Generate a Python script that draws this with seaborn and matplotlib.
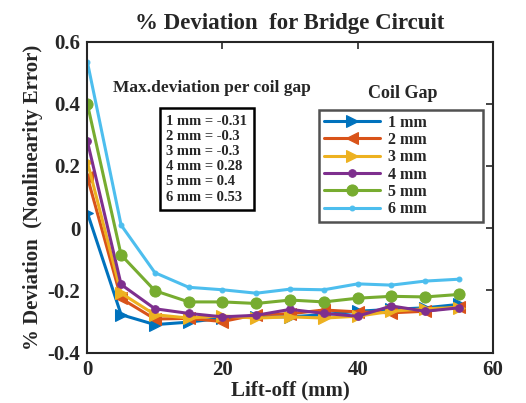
import numpy as np
import pandas as pd
import matplotlib
matplotlib.use("Agg")
import matplotlib.pyplot as plt
import seaborn as sns

lift_off = [0, 5, 10, 15, 20, 25, 30, 35, 40, 45, 50, 55]
gaps = ["1 mm", "2 mm", "3 mm", "4 mm", "5 mm", "6 mm"]
dev_1mm = [0.05, -0.278, -0.31, -0.302, -0.289, -0.285, -0.285, -0.278, -0.267, -0.261, -0.256, -0.245]
dev_2mm = [0.165, -0.226, -0.292, -0.29, -0.30, -0.278, -0.275, -0.263, -0.269, -0.272, -0.267, -0.252]
dev_3mm = [0.214, -0.209, -0.278, -0.289, -0.282, -0.289, -0.285, -0.289, -0.283, -0.267, -0.259, -0.255]
dev_4mm = [0.28, -0.181, -0.259, -0.274, -0.285, -0.28, -0.261, -0.274, -0.283, -0.25, -0.267, -0.256]
dev_5mm = [0.40, -0.086, -0.201, -0.237, -0.237, -0.242, -0.231, -0.237, -0.225, -0.219, -0.221, -0.213]
dev_6mm = [0.535, 0.01, -0.143, -0.19, -0.198, -0.209, -0.196, -0.198, -0.179, -0.183, -0.170, -0.164]
max_dev = ["-0.31", "-0.3", "-0.3", "0.28", "0.4", "0.53"]

colors = ["#0072BD", "#D95319", "#EDB120", "#7E2F8E", "#77AC30", "#4DBEEE"]
markers = [">", "<", ">", ".", "o", "."]
msizes = [8, 8, 8, 11, 8, 7]

series = [dev_1mm, dev_2mm, dev_3mm, dev_4mm, dev_5mm, dev_6mm]
df = pd.concat([pd.DataFrame({"lift": lift_off, "dev": s, "gap": g}) for g, s in zip(gaps, series)])

sns.set_style("white")
plt.rcParams["font.family"] = ["Liberation Serif", "DejaVu Serif"]
plt.rcParams["font.weight"] = "bold"

fig = plt.figure(figsize=(5.26, 4.03), dpi=100)
ax = fig.add_axes([0.166, 0.125, 0.771, 0.772])

for i, g in enumerate(gaps):
    sns.lineplot(data=df[df.gap == g], x="lift", y="dev", color=colors[i], marker=markers[i],
                 markersize=msizes[i], markeredgecolor=colors[i], linewidth=2.2, label=g, ax=ax)

ax.set_xlim(0, 60)
ax.set_ylim(-0.4, 0.6)
ax.set_xticks([0, 20, 40, 60])
ax.set_yticks([-0.4, -0.2, 0, 0.2, 0.4, 0.6])
ax.set_yticklabels(["-0.4", "-0.2", "0", "0.2", "0.4", "0.6"])
ax.tick_params(direction="in", length=5, width=1.2, labelsize=15, top=True, right=True, pad=5)
for sp in ax.spines.values():
    sp.set_linewidth(1.5)
    sp.set_color("#262626")

ax.set_xlabel("Lift-off (mm)", fontsize=15, fontweight="bold", labelpad=1)
ax.set_ylabel("% Deviation  (Nonlinearity Error)", fontsize=15, fontweight="bold", labelpad=3)
ax.set_title("% Deviation  for Bridge Circuit", fontsize=16.5, fontweight="bold", pad=9)

leg = ax.legend(loc="upper left", bbox_to_anchor=(0.572, 0.44, 0.404, 0.34), mode="expand",
                borderaxespad=0, frameon=True, fancybox=False, fontsize=11.5, handlelength=3.5,
                labelspacing=0.08, borderpad=0.3, handletextpad=0.5)
leg.get_frame().set_edgecolor("#262626")
leg.get_frame().set_linewidth(1.8)
ax.text(0.779, 0.834, "Coil Gap", transform=ax.transAxes, ha="center", va="center",
        fontsize=13, fontweight="bold")

ax.text(0.307, 0.85, "Max.deviation per coil gap", transform=ax.transAxes, ha="center", va="center",
        fontsize=12.5, fontweight="bold")
box_txt = "\n".join(f"{g} = {v}" for g, v in zip(gaps, max_dev))
ax.text(0.195, 0.765, box_txt, transform=ax.transAxes, ha="left", va="top", fontsize=10.5,
        fontweight="bold", linespacing=1.22,
        bbox=dict(boxstyle="square,pad=0.45", facecolor="white", edgecolor="black", linewidth=1.8))

fig.savefig("out.png", dpi=100)
